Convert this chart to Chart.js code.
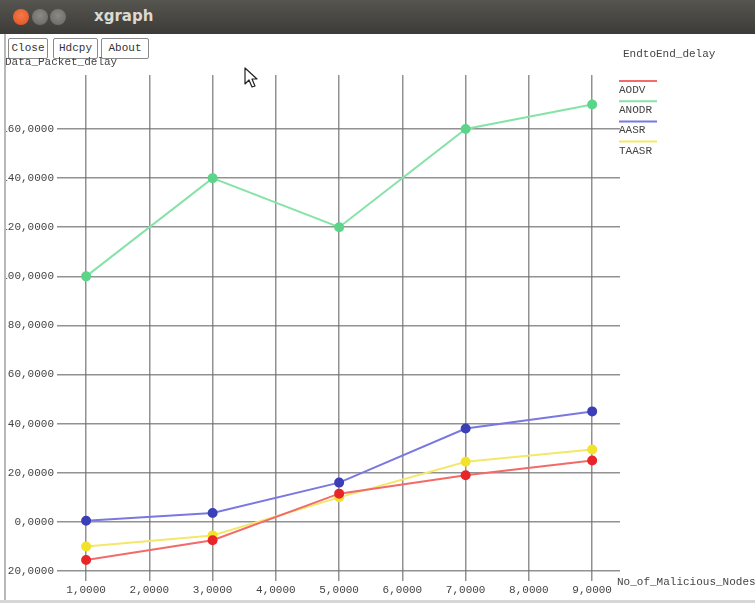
<!DOCTYPE html>
<html>
<head>
<meta charset="utf-8">
<title>xgraph</title>
<script src="https://cdn.jsdelivr.net/npm/chart.js@4.4.1/dist/chart.umd.min.js"></script>
<style>
  html, body { margin: 0; padding: 0; }
  body { width: 755px; height: 603px; overflow: hidden; background: #fff; position: relative; font-family: "Liberation Mono", "DejaVu Sans Mono", monospace; }
  #titlebar { position: absolute; left: 0; top: 0; width: 755px; height: 34px; background: linear-gradient(#57554f, #3c3b37); }
  .dot { position: absolute; top: 9px; width: 16px; height: 16px; border-radius: 50%; }
  #btn-close { left: 13px; background: radial-gradient(circle at 50% 40%, #f7794a, #e0501f); }
  #btn-min { left: 32px; background: radial-gradient(circle at 50% 40%, #8b8a85, #66655f); }
  #btn-max { left: 50px; background: radial-gradient(circle at 50% 40%, #8b8a85, #66655f); }
  #wintitle { position: absolute; left: 94px; top: 7px; color: #dcd9d2; font: bold 15px "DejaVu Sans", sans-serif; }
  #leftedge { position: absolute; left: 4px; top: 34px; width: 2px; height: 569px; background: #b8b8b8; }
  #bottomedge { position: absolute; left: 0; top: 600px; width: 755px; height: 3px; background: #d6d6d6; }
  .btn { position: absolute; top: 38px; height: 19px; border: 1px solid #8a8a8a; border-radius: 2px; font: 11px "Liberation Mono", monospace; color: #333; line-height: 19px; text-align: center; background: #fff; }
  #chartwrap { position: absolute; left: 6px; top: 36px; width: 749px; height: 564px; overflow: hidden; }
  #pointer { position: absolute; left: 244px; top: 67px; }
</style>
</head>
<body>
<div id="titlebar">
  <div class="dot" id="btn-close"></div>
  <div class="dot" id="btn-min"></div>
  <div class="dot" id="btn-max"></div>
  <div id="wintitle">xgraph</div>
</div>
<div id="leftedge"></div>
<div class="btn" style="left:8px;width:38px;">Close</div>
<div class="btn" style="left:53px;width:43px;">Hdcpy</div>
<div class="btn" style="left:101px;width:46px;">About</div>
<div id="chartwrap"><canvas id="plot" width="749" height="567"></canvas></div>
<svg id="pointer" width="16" height="22" viewBox="0 0 16 22">
  <path d="M1 1 L1 17 L5 13 L8 20 L11 19 L8 12 L13 12 Z" fill="#fff" stroke="#222" stroke-width="1.2" stroke-linejoin="round"/>
</svg>
<div id="bottomedge"></div>

<script>
// Number of malicious nodes on the x axis
const nodeCounts = [1, 3, 5, 7, 9];

// End-to-end delay for each routing protocol
const delayAODV  = [-15.5, -7.5, 11.5, 19, 25];
const delayANODR = [100, 140, 120, 160, 170];
const delayAASR  = [0.5, 3.6, 16, 38, 45];
const delayTAASR = [-10, -5.5, 10, 24.5, 29.5];

const seriesNames = ['AODV', 'ANODR', 'AASR', 'TAASR'];

// Grid / tick positions
const xTicks = [1, 2, 3, 4, 5, 6, 7, 8, 9];
const yTicks = [-20, 0, 20, 40, 60, 80, 100, 120, 140, 160];

const legendTitle = 'EndtoEnd_delay';
const xTitle = 'No_of_Malicious_Nodes';
const yTitle = 'Data_Packet_delay';

const fmt = v => v.toFixed(4).replace('.', ',');
const monoFont = { family: '"Liberation Mono", "DejaVu Sans Mono", monospace', size: 11 };

const styles = [
  { line: '#f26a6a', point: '#e8262a' },
  { line: '#86e3a8', point: '#5cd58a' },
  { line: '#7a78e0', point: '#3a3fb8' },
  { line: '#f4e86a', point: '#f2e22a' }
];

const series = [delayAODV, delayANODR, delayAASR, delayTAASR];

const datasets = series.map((vals, i) => ({
  label: seriesNames[i],
  data: nodeCounts.map((x, j) => ({ x: x, y: vals[j] })),
  borderColor: styles[i].line,
  backgroundColor: styles[i].point,
  pointBackgroundColor: styles[i].point,
  pointBorderColor: styles[i].point,
  pointRadius: 4,
  borderWidth: 2,
  tension: 0,
  fill: false
}));

// Legend in the right margin and the two axis captions
const xgraphText = {
  id: 'xgraphText',
  afterDraw(chart) {
    const ctx = chart.ctx;
    const area = chart.chartArea;
    ctx.save();
    ctx.font = '11px "Liberation Mono", "DejaVu Sans Mono", monospace';
    ctx.fillStyle = '#444';
    ctx.textBaseline = 'middle';
    ctx.textAlign = 'left';

    // legend
    const lx = area.right - 1;
    ctx.fillText(legendTitle, lx + 4, 18);
    chart.data.datasets.forEach((ds, i) => {
      const ly = 45 + i * 20.2;
      ctx.strokeStyle = ds.borderColor;
      ctx.lineWidth = 2;
      ctx.beginPath();
      ctx.moveTo(lx, ly);
      ctx.lineTo(lx + 38, ly);
      ctx.stroke();
      ctx.fillStyle = '#444';
      ctx.fillText(ds.label, lx, ly + 9);
    });

    // axis captions
    ctx.fillText(xTitle, area.right - 3, area.bottom + 11);
    ctx.fillText(yTitle, -1, 26);
    ctx.restore();
  }
};

new Chart(document.getElementById('plot'), {
  type: 'line',
  data: { datasets: datasets },
  options: {
    responsive: false,
    animation: false,
    layout: { padding: { left: 0, top: 39, right: 135, bottom: 0 } },
    plugins: { legend: { display: false }, tooltip: { enabled: false } },
    scales: {
      x: {
        type: 'linear',
        min: 0.54,
        max: 9.44,
        afterBuildTicks: s => { s.ticks = xTicks.map(v => ({ value: v })); },
        afterFit: s => { s.height = 32; },
        border: { display: false },
        grid: { color: 'rgba(110,110,110,0.75)', lineWidth: 1.5, drawTicks: true, tickLength: 10, tickColor: 'rgba(110,110,110,0.75)' },
        ticks: { font: monoFont, color: '#444', padding: 2, maxRotation: 0, autoSkip: false, callback: v => fmt(v) }
      },
      y: {
        type: 'linear',
        min: -20,
        max: 182,
        afterBuildTicks: s => { s.ticks = yTicks.map(v => ({ value: v })); },
        afterFit: s => { s.width = 51; },
        border: { display: false },
        grid: { color: 'rgba(110,110,110,0.75)', lineWidth: 1.5, drawTicks: false },
        ticks: { font: monoFont, color: '#444', padding: 3, autoSkip: false, callback: v => fmt(v) }
      }
    }
  },
  plugins: [xgraphText]
});
</script>
</body>
</html>
